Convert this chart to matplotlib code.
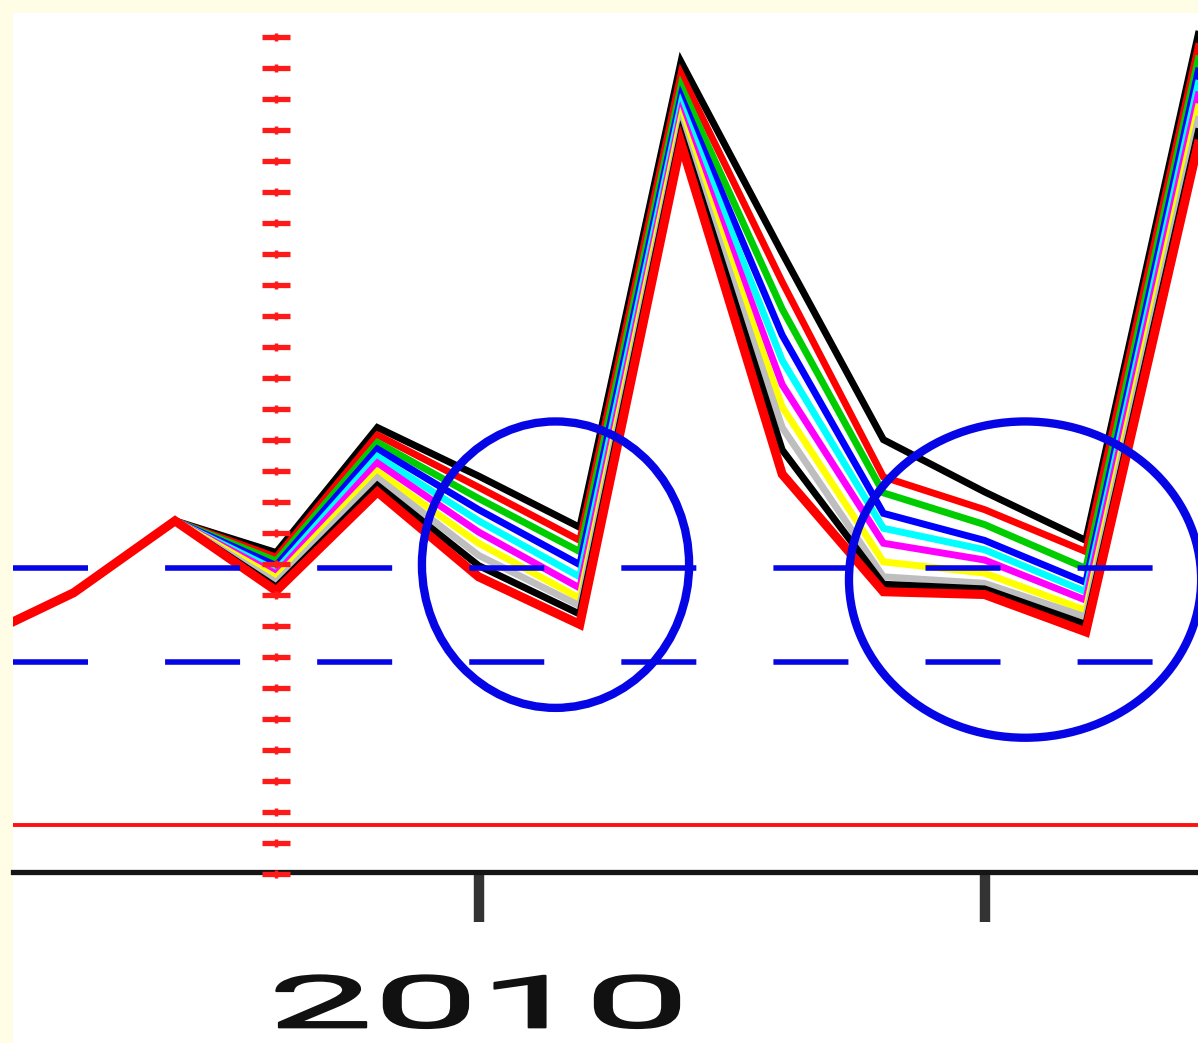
import numpy as np
import matplotlib
matplotlib.use("Agg")
import matplotlib.pyplot as plt
from matplotlib.patches import Ellipse, Rectangle
from matplotlib.patheffects import AbstractPathEffect
from matplotlib.transforms import Affine2D, blended_transform_factory

plt.rcParams["lines.scale_dashes"] = False
plt.rcParams["font.family"] = ["Roboto", "Liberation Sans", "DejaVu Sans"]

# ---------------- data ----------------
periods = list(range(14))                 # quarterly periods
history = [1.97, 2.49, 3.26]              # observed values (periods 0-2)
forecast_start = 3                        # first forecast period

# forecast paths for periods 3..13 (top to bottom of the fan)
path_1 = [2.92, 4.26, 3.74, 3.19, 8.18, 6.13, 4.13, 3.57, 3.05, 7.93, 12.81]
path_2 = [2.87, 4.18, 3.62, 3.05, 8.05, 5.82, 3.73, 3.38, 2.93, 7.80, 12.67]
path_3 = [2.83, 4.10, 3.50, 2.93, 7.92, 5.53, 3.56, 3.22, 2.75, 7.67, 12.52]
path_4 = [2.78, 4.03, 3.38, 2.79, 7.81, 5.25, 3.34, 3.05, 2.60, 7.54, 12.38]
path_5 = [2.73, 3.95, 3.26, 2.66, 7.72, 4.98, 3.18, 2.95, 2.50, 7.41, 12.23]
path_6 = [2.69, 3.88, 3.14, 2.54, 7.63, 4.72, 3.02, 2.84, 2.41, 7.29, 12.09]
path_7 = [2.65, 3.79, 3.02, 2.43, 7.56, 4.48, 2.82, 2.70, 2.30, 7.16, 11.95]
path_8 = [2.60, 3.72, 2.89, 2.35, 7.48, 4.26, 2.66, 2.59, 2.23, 7.03, 11.80]
path_9 = [2.55, 3.64, 2.78, 2.26, 7.41, 4.02, 2.58, 2.53, 2.15, 6.90, 11.66]
path_10 = [2.51, 3.57, 2.66, 2.15, 7.31, 3.76, 2.50, 2.47, 2.07, 6.78, 11.51]

path_colors = ["#000000", "#ff0000", "#00cd00", "#0000ff", "#00ffff",
               "#ff00ff", "#ffff00", "#bebebe", "#000000", "#ff0000"]

band_low, band_high = 1.75, 2.75          # dashed target band
zero_level = 0.0                          # red reference line

tick_periods = [5, 10]
tick_labels = ["2010", ""]

# highlighted regions (centre period, centre value, width, height)
circle_1 = (5.76, 2.79, 2.64, 3.07)
circle_2 = (10.40, 2.63, 3.48, 3.39)

# ---------------- helpers ----------------
class HStretch(AbstractPathEffect):
    """Stretch glyph outlines horizontally around display x = cx (and embolden slightly)."""
    def __init__(self, sx, cx, stroke=1.4):
        super().__init__()
        self.sx = sx
        self.cx = cx
        self.stroke = stroke

    def draw_path(self, renderer, gc, tpath, affine, rgbFace=None):
        aff = affine + Affine2D().translate(-self.cx, 0).scale(self.sx, 1).translate(self.cx, 0)
        gc0 = renderer.new_gc()
        gc0.copy_properties(gc)
        if rgbFace is not None:
            gc0.set_foreground(rgbFace)
        gc0.set_linewidth(self.stroke)
        renderer.draw_path(gc0, tpath, aff, rgbFace)
        gc0.restore()


# ---------------- figure ----------------
W, H = 1198, 1043
fig = plt.figure(figsize=(W / 100, H / 100), dpi=100, facecolor="#fffde6")
fig.patches.append(Rectangle((13 / W, 0), 1 - 13 / W, 1 - 13 / H,
                             transform=fig.transFigure, facecolor="white",
                             edgecolor="none", zorder=-10))
ax = fig.add_axes([13 / W, (H - 872) / H, 1 - 13 / W, (872 - 13) / H])
ax.patch.set_visible(False)

ax.set_xlim(0.399, 12.109)
ax.set_ylim(-0.504, 8.703)

# fan paths
all_paths = [path_1, path_2, path_3, path_4, path_5,
             path_6, path_7, path_8, path_9, path_10]
for i, (p, c) in enumerate(zip(all_paths, path_colors)):
    ys = history + p
    lw = 6.5 if i == len(all_paths) - 1 else 5.0
    ax.plot(periods, ys, color=c, lw=lw, solid_joinstyle="miter",
            solid_capstyle="butt", zorder=3 + i * 0.01)

# reference line
ax.axhline(zero_level, color="#ff1010", lw=2.8, zorder=2)

# target band
for lvl in (band_low, band_high):
    ax.axhline(lvl, color="#0505e6", lw=4.0, dashes=(54, 55.5), zorder=5)

# forecast start marker (red dashed vertical)
trans = blended_transform_factory(ax.transData, ax.transAxes)
yfr = 1 - (np.arange(28) * 31 + 24) / 859.0
ax.plot(np.full(yfr.size, forecast_start), yfr, linestyle="none", marker="_",
        ms=20, mew=3.8, color="#ff1a1a", transform=trans, clip_on=False, zorder=6)
ax.plot(np.full(yfr.size, forecast_start), yfr, linestyle="none", marker="|",
        ms=6, mew=2.5, color="#ff1a1a", transform=trans, clip_on=False, zorder=6)

# highlight circles
for cx_, cy_, w_, h_ in (circle_1, circle_2):
    ax.add_patch(Ellipse((cx_, cy_), w_, h_, fill=False, edgecolor="#0505e6",
                         lw=6.0, zorder=7, clip_on=False))

# axes styling
for s in ("top", "left", "right"):
    ax.spines[s].set_visible(False)
ax.spines["bottom"].set_linewidth(3.8)
ax.spines["bottom"].set_color("#151515")
ax.set_yticks([])
ax.set_xticks(tick_periods)
ax.set_xticklabels(tick_labels)
ax.tick_params(axis="x", direction="out", length=36, width=7.5, color="#333333",
               pad=37, labelsize=52, labelcolor="#111111")

cx_disp = ax.transData.transform((tick_periods[0], 0))[0]
for lbl in ax.get_xticklabels():
    lbl.set_fontfamily(["Roboto", "DejaVu Sans"])
    lbl.set_path_effects([HStretch(2.6, cx_disp)])

fig.savefig("out.png", dpi=100, facecolor=fig.get_facecolor())
